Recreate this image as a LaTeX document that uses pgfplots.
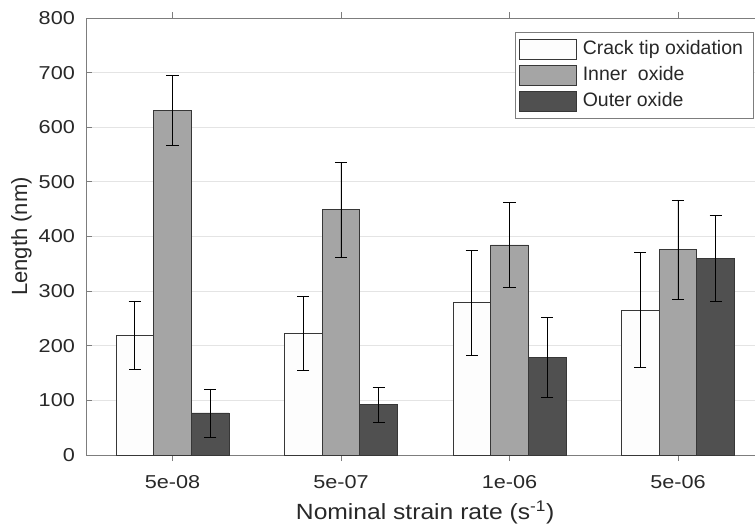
\documentclass[border=0pt]{standalone}
\usepackage{pgfplots}
\pgfplotsset{compat=1.18}
\usepackage{fontspec}
\setmainfont{Liberation Sans}
\definecolor{barA}{RGB}{253,253,253}
\definecolor{barB}{RGB}{165,165,165}
\definecolor{barC}{RGB}{80,80,80}
\definecolor{edge}{RGB}{55,55,55}
\definecolor{axgray}{RGB}{125,125,125}
\definecolor{gridc}{RGB}{228,228,228}
\definecolor{txt}{RGB}{40,40,40}

\pgfplotstableread{
x  y    e
1  219.5 62.5
2  222   68
3  278.5 95.5
4  265   105
}\tcrack
\pgfplotstableread{
x  y    e
1  631  64
2  449  87
3  384.5 77.5
4  376  91
}\tinner
\pgfplotstableread{
x  y    e
1  77   44
2  92   32
3  178.5 73.5
4  360  78
}\touter

\begin{document}
\begin{tikzpicture}
\begin{axis}[
  at={(0,0)}, anchor=south west,
  scale only axis, width=508.8pt, height=327.75pt,
  xmin=0.487, xmax=4.513, ymin=0, ymax=800,
  ytick={0,100,...,800},
  xtick={1,2,3,4}, xticklabels={\mbox{5e-08},\mbox{5e-07},\mbox{1e-06},\mbox{5e-06}},
  /pgf/number format/assume math mode=true,
  tick align=inside, major tick length=4.5pt,
  ymajorgrids, grid style={draw=gridc, line width=0.6pt},
  axis line style={axgray, line width=0.7pt},
  tick style={axgray, line width=0.6pt},
  every tick label/.append style={font=\fontsize{14}{16}\selectfont, text=txt, xscale=1.16},
  yticklabel style={anchor=east, inner sep=0pt, xshift=-7pt},
  xticklabel style={anchor=north, inner sep=0pt, yshift=-10.5pt},
  xlabel={Nominal strain rate (s\textsuperscript{-1})},
  ylabel={Length (nm)},
  xlabel style={at={(axis description cs:0.5,-0.1487)}, anchor=base, font=\fontsize{16.5}{19}\selectfont, text=txt, xscale=1.12, inner sep=0pt},
  ylabel style={at={(axis description cs:-0.0951,0.5)}, anchor=center, font=\fontsize{16.5}{19}\selectfont, text=txt, inner sep=0pt},
  ybar, bar width=0.2237,
  legend cell align=left,
  legend style={at={(rel axis cs:0.9837,0.9687)}, anchor=north east,
    draw=axgray, line width=0.6pt, font=\fontsize{14.6}{16}\selectfont, text=txt,
    inner xsep=3.2pt, inner ysep=5pt, row sep=4pt, column sep=0pt,
    nodes={inner xsep=4.3pt, inner ysep=0pt, text height=10.5pt, text depth=3pt}},
  legend image code/.code={\draw[#1] (0pt,-7.5pt) rectangle (42.75pt,7.5pt);},
  error bars/error bar style={black, line width=0.6pt},
  error bars/error mark options={black, line width=0.6pt, mark size=4.6pt, rotate=90},
]
\addplot[fill=barA, draw=edge, line width=0.6pt, bar shift=-0.2237,
  error bars/.cd, y dir=both, y explicit]
  table[x=x, y=y, y error=e] {\tcrack};
\addlegendentry{Crack tip oxidation}
\addplot[fill=barB, draw=edge, line width=0.6pt, bar shift=0,
  error bars/.cd, y dir=both, y explicit]
  table[x=x, y=y, y error=e] {\tinner};
\addlegendentry{Inner\ \ oxide}
\addplot[fill=barC, draw=edge, line width=0.6pt, bar shift=0.2237,
  error bars/.cd, y dir=both, y explicit]
  table[x=x, y=y, y error=e] {\touter};
\addlegendentry{Outer oxide}
\end{axis}
\pgfresetboundingbox
\path (-64.5pt,-55.5pt) rectangle (501.75pt,341.25pt);
\end{tikzpicture}
\end{document}
